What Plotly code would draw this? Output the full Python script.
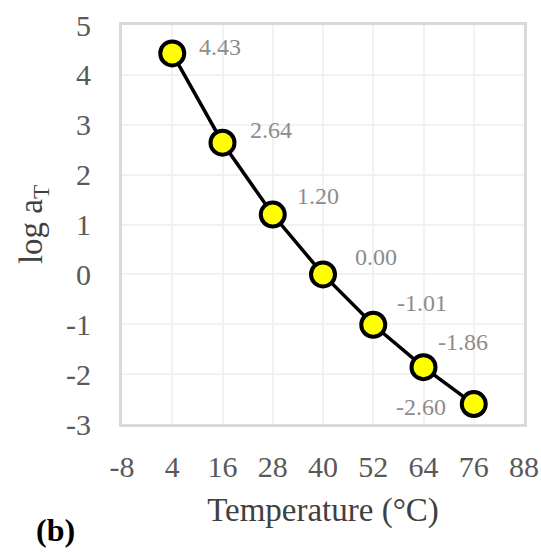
import plotly.graph_objects as go

temperature = [4, 16, 28, 40, 52, 64, 76]
log_aT = [4.43, 2.64, 1.20, 0.00, -1.01, -1.86, -2.60]
labels = ["4.43", "2.64", "1.20", "0.00", "-1.01", "-1.86", "-2.60"]
x_ticks = [-8, 4, 16, 28, 40, 52, 64, 76, 88]
y_ticks = [-3, -2, -1, 0, 1, 2, 3, 4, 5]

FONT = "Liberation Serif, Times New Roman, serif"

fig = go.Figure()
fig.add_trace(go.Scatter(
    x=temperature, y=log_aT, mode="lines+markers",
    line=dict(color="black", width=3.5),
    marker=dict(size=24, color="#ffff00", line=dict(color="black", width=4)),
    showlegend=False, hoverinfo="skip",
))

shifts = [(25, 6), (25, 13), (22, 19), (30, 17), (22, 22), (12, 25), (-26, -3)]
for x, y, t, (dx, dy) in zip(temperature, log_aT, labels, shifts):
    fig.add_annotation(
        x=x, y=y, text=t, showarrow=False,
        xanchor="left" if dx > 0 else "right", yanchor="middle",
        xshift=dx, yshift=dy,
        font=dict(family=FONT, size=24, color="#8c8c8c"),
    )

fig.add_annotation(
    x=-0.165, y=-0.265, xref="paper", yref="paper", text="<b>(b)</b>",
    showarrow=False, xanchor="center", yanchor="middle",
    font=dict(family=FONT, size=32, color="black"),
)

fig.update_layout(
    width=541, height=552,
    margin=dict(l=122, r=17, t=25, b=128),
    paper_bgcolor="white", plot_bgcolor="white",
    font=dict(family=FONT, color="#595959"),
)
fig.update_xaxes(
    range=[-8, 88], tickvals=x_ticks, ticktext=[str(v) for v in x_ticks],
    showgrid=True, gridcolor="#f2f2f2", gridwidth=2, automargin=False,
    zeroline=False, showline=True, mirror=True, linecolor="#d9d9d9", linewidth=3,
    ticks="", ticklabelstandoff=14,
    tickfont=dict(family=FONT, size=30, color="#595959"),
    title=dict(text="Temperature (°C)", font=dict(family=FONT, size=33, color="#404040"), standoff=16),
)
fig.update_yaxes(
    range=[-3, 5], tickvals=y_ticks, ticktext=[str(v) for v in y_ticks],
    showgrid=True, gridcolor="#f2f2f2", gridwidth=2, automargin=False,
    zeroline=False, showline=True, mirror=True, linecolor="#d9d9d9", linewidth=3,
    ticks="", ticklabelstandoff=22,
    tickfont=dict(family=FONT, size=30, color="#595959"),
    title=dict(text="log a<sub>T</sub>", font=dict(family=FONT, size=33, color="#404040"), standoff=14),
)

fig.write_html("out.html", config={"displayModeBar": False},
               post_script="document.body.style.margin='0';")
